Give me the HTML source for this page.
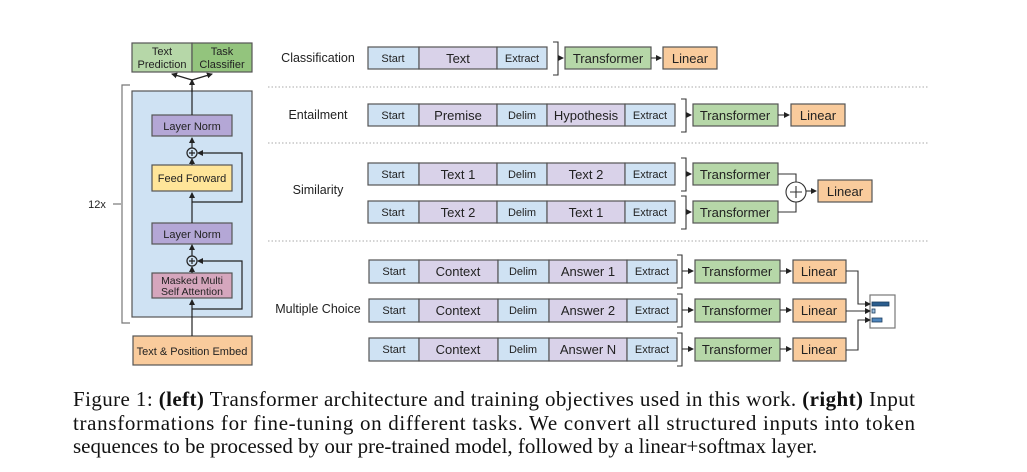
<!DOCTYPE html>
<html><head><meta charset="utf-8"><style>
html,body{margin:0;padding:0;background:#fff;width:1027px;height:472px;overflow:hidden}
svg{display:block}
.s{font-family:"Liberation Sans",sans-serif;fill:#222}
.c{font-family:"Liberation Serif",serif;font-size:21px;fill:#111}
</style></head><body>
<svg width="1027" height="472" viewBox="0 0 1027 472" xmlns="http://www.w3.org/2000/svg">
<defs>
<marker id="a" markerWidth="6" markerHeight="6" refX="5" refY="3" orient="auto" markerUnits="userSpaceOnUse"><path d="M0,0 L6,3 L0,6 z" fill="#222"/></marker>
</defs>
<g stroke="#555" stroke-width="1.2">
<rect x="132" y="43" width="60" height="29" fill="#b6d7a8"/>
<rect x="192" y="43" width="60" height="29" fill="#93c47d"/>
<rect x="132" y="91" width="120" height="226" fill="#cfe2f3"/>
<rect x="152" y="115" width="80" height="21" fill="#b4a7d6"/>
<rect x="152" y="165" width="80" height="26" fill="#ffe599"/>
<rect x="152" y="223" width="80" height="21" fill="#b4a7d6"/>
<rect x="152" y="273" width="80" height="25" fill="#d5a6bd"/>
<rect x="133" y="336" width="119" height="29" fill="#f9cb9c"/>
</g>
<g stroke="#222" stroke-width="1.2" fill="none">
<path d="M192,336 V300" marker-end="url(#a)"/>
<path d="M192,273 V267" marker-end="url(#a)"/>
<path d="M192,256 V245" marker-end="url(#a)"/>
<path d="M192,223 V193" marker-end="url(#a)"/>
<path d="M192,165 V159" marker-end="url(#a)"/>
<path d="M192,148 V138" marker-end="url(#a)"/>
<path d="M192,115 V88"/>
<path d="M192,92 V80" marker-end="url(#a)"/>
<path d="M192,80 L172,74" marker-end="url(#a)"/>
<path d="M192,80 L212,74" marker-end="url(#a)"/>
<path d="M192,309 H242 V261 H198" marker-end="url(#a)"/>
<path d="M192,202 H242 V153 H198" marker-end="url(#a)"/>
<circle cx="192" cy="153" r="5" fill="#cfe2f3"/>
<circle cx="192" cy="261" r="5" fill="#cfe2f3"/>
<path d="M189,153 H195 M192,150 V156 M189,261 H195 M192,258 V264"/>
<path d="M130,85 H122 V323 H130" stroke="#777"/>
<path d="M113,204 H121" stroke="#777"/>
</g>
<g class="s" font-size="11" text-anchor="middle">
<text x="162" y="55">Text</text><text x="162" y="68">Prediction</text>
<text x="222" y="55">Task</text><text x="222" y="68">Classifier</text>
<text x="192" y="130">Layer Norm</text>
<text x="192" y="182">Feed Forward</text>
<text x="192" y="238">Layer Norm</text>
<text x="192" y="284" font-size="10.5">Masked Multi</text>
<text x="192" y="295" font-size="10.5">Self Attention</text>
<text x="192" y="355">Text &amp; Position Embed</text>
<text x="97" y="208">12x</text>
</g>
<g stroke="#aaa" stroke-width="1" stroke-dasharray="1.5,2">
<path d="M268,87 H928 M268,143 H928 M268,241 H928"/>
</g>
<g class="s" font-size="12.5" text-anchor="middle">
<text x="318" y="62">Classification</text>
<text x="318" y="119">Entailment</text>
<text x="318" y="194">Similarity</text>
<text x="318" y="313">Multiple Choice</text>
</g>
<g stroke="#555" stroke-width="1.2">
<rect x="368" y="47" width="51" height="22" fill="#cfe2f3"/><rect x="419" y="47" width="78" height="22" fill="#d9d2e9"/><rect x="497" y="47" width="50" height="22" fill="#cfe2f3"/>
<rect x="565" y="47" width="86" height="22" fill="#b6d7a8"/><rect x="663" y="47" width="54" height="22" fill="#f9cb9c"/>
<rect x="368" y="104" width="51" height="22" fill="#cfe2f3"/><rect x="419" y="104" width="78" height="22" fill="#d9d2e9"/><rect x="497" y="104" width="50" height="22" fill="#cfe2f3"/><rect x="547" y="104" width="78" height="22" fill="#d9d2e9"/><rect x="625" y="104" width="50" height="22" fill="#cfe2f3"/>
<rect x="693" y="104" width="85" height="22" fill="#b6d7a8"/><rect x="791" y="104" width="54" height="22" fill="#f9cb9c"/>
<rect x="368" y="163" width="51" height="22" fill="#cfe2f3"/><rect x="419" y="163" width="78" height="22" fill="#d9d2e9"/><rect x="497" y="163" width="50" height="22" fill="#cfe2f3"/><rect x="547" y="163" width="78" height="22" fill="#d9d2e9"/><rect x="625" y="163" width="50" height="22" fill="#cfe2f3"/>
<rect x="368" y="201" width="51" height="22" fill="#cfe2f3"/><rect x="419" y="201" width="78" height="22" fill="#d9d2e9"/><rect x="497" y="201" width="50" height="22" fill="#cfe2f3"/><rect x="547" y="201" width="78" height="22" fill="#d9d2e9"/><rect x="625" y="201" width="50" height="22" fill="#cfe2f3"/>
<rect x="693" y="163" width="85" height="22" fill="#b6d7a8"/><rect x="693" y="201" width="85" height="22" fill="#b6d7a8"/><rect x="818" y="180" width="54" height="22" fill="#f9cb9c"/>
<rect x="369" y="260" width="50" height="23" fill="#cfe2f3"/><rect x="419" y="260" width="79" height="23" fill="#d9d2e9"/><rect x="498" y="260" width="51" height="23" fill="#cfe2f3"/><rect x="549" y="260" width="78" height="23" fill="#d9d2e9"/><rect x="627" y="260" width="50" height="23" fill="#cfe2f3"/>
<rect x="369" y="299" width="50" height="23" fill="#cfe2f3"/><rect x="419" y="299" width="79" height="23" fill="#d9d2e9"/><rect x="498" y="299" width="51" height="23" fill="#cfe2f3"/><rect x="549" y="299" width="78" height="23" fill="#d9d2e9"/><rect x="627" y="299" width="50" height="23" fill="#cfe2f3"/>
<rect x="369" y="338" width="50" height="23" fill="#cfe2f3"/><rect x="419" y="338" width="79" height="23" fill="#d9d2e9"/><rect x="498" y="338" width="51" height="23" fill="#cfe2f3"/><rect x="549" y="338" width="78" height="23" fill="#d9d2e9"/><rect x="627" y="338" width="50" height="23" fill="#cfe2f3"/>
<rect x="695" y="260" width="85" height="23" fill="#b6d7a8"/><rect x="793" y="260" width="53" height="23" fill="#f9cb9c"/>
<rect x="695" y="299" width="85" height="23" fill="#b6d7a8"/><rect x="793" y="299" width="53" height="23" fill="#f9cb9c"/>
<rect x="695" y="338" width="85" height="23" fill="#b6d7a8"/><rect x="793" y="338" width="53" height="23" fill="#f9cb9c"/>
<rect x="870" y="295" width="25" height="33" fill="#fff" stroke="#777"/>
</g>
<g fill="#2b5d8e" stroke="#1c3d5e" stroke-width="0.8">
<rect x="872" y="302" width="17" height="4"/><rect x="872" y="309" width="3" height="4" fill="#9fc0e0"/><rect x="872" y="318" width="10" height="4" fill="#4f86bd"/>
</g>
<g stroke="#333" stroke-width="1.1" fill="none">
<path d="M553,42 H558 V75 H553 M681,99 H686 V132 H681 M681,158 H686 V191 H681 M681,196 H686 V229 H681 M677,255 H682 V288 H677 M677,294 H682 V327 H677 M677,333 H682 V366 H677"/>
<path d="M558,58 H563" marker-end="url(#a)"/><path d="M651,58 H661" marker-end="url(#a)"/>
<path d="M686,115 H691" marker-end="url(#a)"/><path d="M778,115 H789" marker-end="url(#a)"/>
<path d="M686,174 H691" marker-end="url(#a)"/><path d="M686,212 H691" marker-end="url(#a)"/>
<path d="M778,174 H796 V182 M778,212 H796 V202"/>
<circle cx="796" cy="192" r="10" fill="#fff"/><path d="M790,192 H802 M796,186 V198"/>
<path d="M806,191 H816" marker-end="url(#a)"/>
<path d="M682,271 H693" marker-end="url(#a)"/><path d="M780,271 H791" marker-end="url(#a)"/>
<path d="M682,310 H693" marker-end="url(#a)"/><path d="M780,310 H791" marker-end="url(#a)"/>
<path d="M682,349 H693" marker-end="url(#a)"/><path d="M780,349 H791" marker-end="url(#a)"/>
<path d="M846,271 H858 V304 H870" marker-end="url(#a)"/>
<path d="M846,311 H870" marker-end="url(#a)"/>
<path d="M846,350 H858 V320 H870" marker-end="url(#a)"/>
</g>
<g class="s" text-anchor="middle">
<g font-size="11">
<text x="393" y="62">Start</text><text x="522" y="62">Extract</text>
<text x="393" y="119">Start</text><text x="522" y="119">Delim</text><text x="650" y="119">Extract</text>
<text x="393" y="178">Start</text><text x="522" y="178">Delim</text><text x="650" y="178">Extract</text>
<text x="393" y="216">Start</text><text x="522" y="216">Delim</text><text x="650" y="216">Extract</text>
<text x="394" y="275">Start</text><text x="523" y="275">Delim</text><text x="652" y="275">Extract</text>
<text x="394" y="314">Start</text><text x="523" y="314">Delim</text><text x="652" y="314">Extract</text>
<text x="394" y="353">Start</text><text x="523" y="353">Delim</text><text x="652" y="353">Extract</text>
</g>
<g font-size="13">
<text x="458" y="63">Text</text><text x="608" y="63">Transformer</text><text x="690" y="63">Linear</text>
<text x="458" y="120">Premise</text><text x="586" y="120">Hypothesis</text><text x="735" y="120">Transformer</text><text x="818" y="120">Linear</text>
<text x="458" y="179">Text 1</text><text x="586" y="179">Text 2</text><text x="735" y="179">Transformer</text>
<text x="458" y="217">Text 2</text><text x="586" y="217">Text 1</text><text x="735" y="217">Transformer</text>
<text x="845" y="196">Linear</text>
<text x="458" y="276">Context</text><text x="588" y="276">Answer 1</text><text x="737" y="276">Transformer</text><text x="819" y="276">Linear</text>
<text x="458" y="315">Context</text><text x="588" y="315">Answer 2</text><text x="737" y="315">Transformer</text><text x="819" y="315">Linear</text>
<text x="458" y="354">Context</text><text x="588" y="354">Answer N</text><text x="737" y="354">Transformer</text><text x="819" y="354">Linear</text>
</g>
</g>
<text class="c" x="73" y="406" textLength="842" lengthAdjust="spacing">Figure 1: <tspan font-weight="bold">(left)</tspan> Transformer architecture and training objectives used in this work. <tspan font-weight="bold">(right)</tspan> Input</text>
<text class="c" x="73" y="430" textLength="842" lengthAdjust="spacing">transformations for fine-tuning on different tasks.  We convert all structured inputs into token</text>
<text class="c" x="73" y="453">sequences to be processed by our pre-trained model, followed by a linear+softmax layer.</text>
</svg>
</body></html>
